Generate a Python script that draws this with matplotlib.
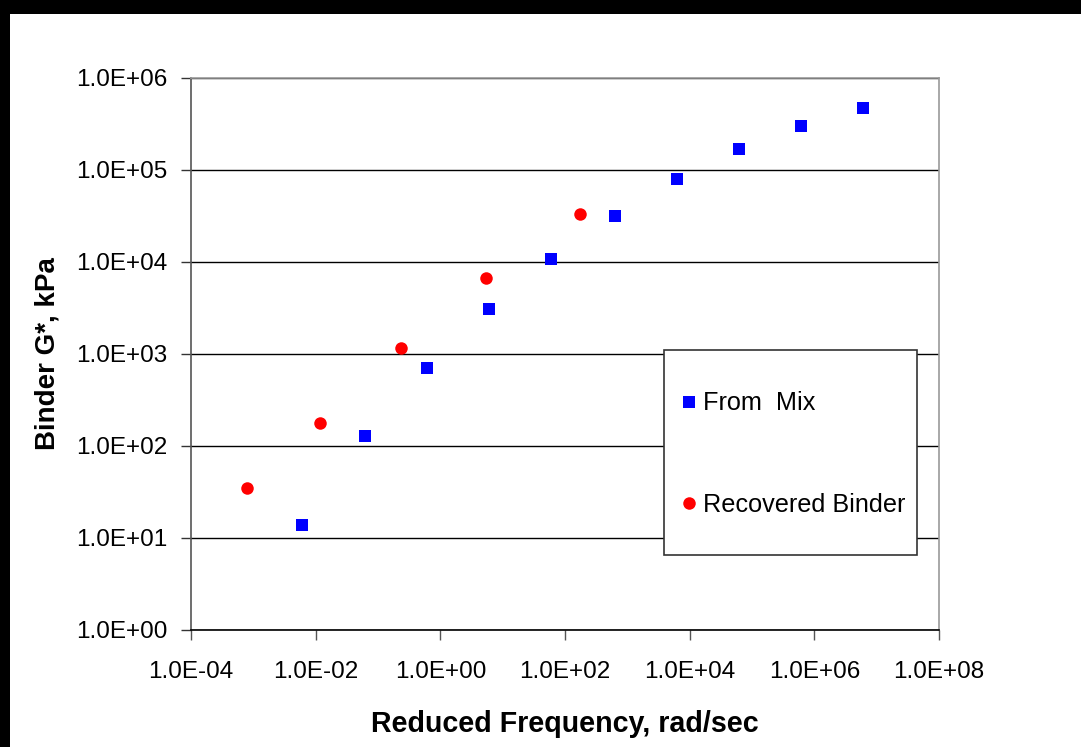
import matplotlib
matplotlib.use("Agg")
import matplotlib.pyplot as plt
from matplotlib.patches import Rectangle

plt.rcParams['font.family'] = ['Liberation Sans', 'DejaVu Sans']

# Data
mix_freq = [6.0e-3, 6.2e-2, 6.1e-1, 6.0e0, 6.0e1, 6.3e2, 6.3e3, 6.2e4, 6.2e5, 6.1e6]
mix_g = [13.8, 128, 705, 3080, 10800, 31600, 79800, 169000, 301000, 472000]

rec_freq = [7.9e-4, 1.18e-2, 2.34e-1, 5.4e0, 1.74e2]
rec_g = [34.9, 178, 1160, 6700, 33200]

x_ticks = [1e-4, 1e-2, 1e0, 1e2, 1e4, 1e6, 1e8]
x_tick_labels = ["1.0E-04", "1.0E-02", "1.0E+00", "1.0E+02", "1.0E+04", "1.0E+06", "1.0E+08"]
y_ticks = [1e0, 1e1, 1e2, 1e3, 1e4, 1e5, 1e6]
y_tick_labels = ["1.0E+00", "1.0E+01", "1.0E+02", "1.0E+03", "1.0E+04", "1.0E+05", "1.0E+06"]

W, H = 1081, 747
fig = plt.figure(figsize=(W / 100, H / 100), dpi=100)
fig.patch.set_facecolor('white')

# black border strips (top and left)
fig.add_artist(Rectangle((0, 1 - 14 / H), 1, 14 / H, transform=fig.transFigure,
                         facecolor='black', edgecolor='none'))
fig.add_artist(Rectangle((0, 0), 10 / W, 1, transform=fig.transFigure,
                         facecolor='black', edgecolor='none'))

ax = fig.add_axes([191 / W, 117 / H, (939 - 191) / W, (630 - 78) / H])
ax.set_xscale('log')
ax.set_yscale('log')
ax.set_xlim(1e-4, 1e8)
ax.set_ylim(1e0, 1e6)

ax.set_xticks(x_ticks)
ax.set_xticklabels(x_tick_labels)
ax.set_yticks(y_ticks)
ax.set_yticklabels(y_tick_labels)
ax.minorticks_off()
ax.tick_params(axis='both', which='major', direction='out', length=7, width=1,
               labelsize=17.5, colors='black')
ax.tick_params(axis='x', color='#555555', pad=15)
ax.tick_params(axis='y', color='#333333', pad=10)

ax.yaxis.grid(True, color='black', linewidth=1)
ax.set_axisbelow(True)

ax.spines['left'].set_color('#555555')
ax.spines['bottom'].set_color('black')
ax.spines['top'].set_color('#999999')
ax.spines['right'].set_color('#999999')
for s in ax.spines.values():
    s.set_linewidth(1.2)

ax.plot(mix_freq, mix_g, linestyle='none', marker='s', markersize=8.5,
        color='#0000FF', markeredgewidth=0, label='From  Mix', zorder=3)
ax.plot(rec_freq, rec_g, linestyle='none', marker='o', markersize=9,
        color='#FF0000', markeredgewidth=0, label='Recovered Binder', zorder=3)

ax.set_xlabel('Reduced Frequency, rad/sec', fontsize=20.6, fontweight='bold', labelpad=20)
ax.set_ylabel('Binder G*, kPa', fontsize=20, fontweight='bold', labelpad=11)

# legend box
bx0, bx1, by0, by1 = 664, 917, 350, 555
def ax_x(px):
    return (px - 191) / (939 - 191)
def ax_y(py):
    return (630 - py) / (630 - 78)
ax.add_patch(Rectangle((ax_x(bx0), ax_y(by1)), ax_x(bx1) - ax_x(bx0), ax_y(by0) - ax_y(by1),
                       transform=ax.transAxes, facecolor='white', edgecolor='#333333',
                       linewidth=1.2, zorder=5, clip_on=False))
leg = ax.legend(loc='upper left', bbox_to_anchor=(ax_x(682.5), ax_y(391.5)),
                frameon=False, fontsize=18.2, handlelength=0.5, handletextpad=0.32,
                labelspacing=3.05, borderpad=0, borderaxespad=0)
leg.set_zorder(6)

fig.savefig('out.png', dpi=100)
